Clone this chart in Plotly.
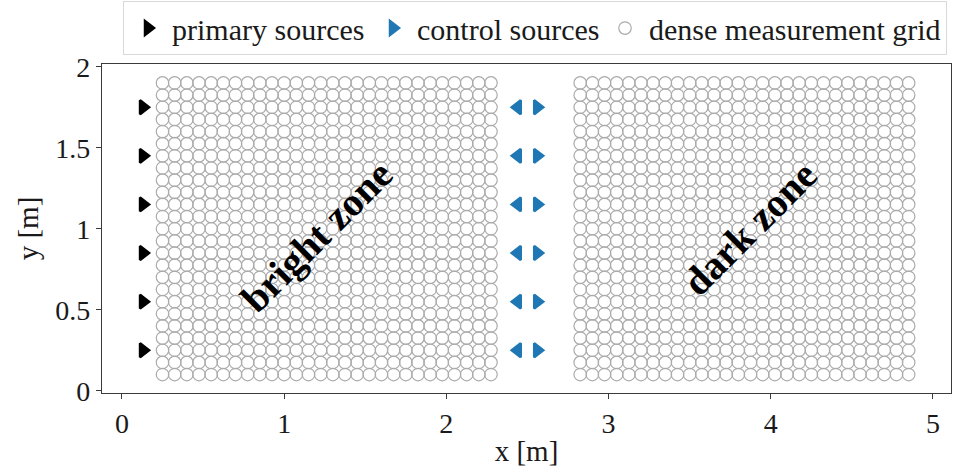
import numpy as np
import plotly.graph_objects as go

# ---- data ----
bright_cols = [0.25, 0.325, 0.4, 0.475, 0.55, 0.625, 0.7, 0.775, 0.85, 0.925, 1.0, 1.075,
               1.15, 1.225, 1.3, 1.375, 1.45, 1.525, 1.6, 1.675, 1.75, 1.825, 1.9, 1.975,
               2.05, 2.125, 2.2, 2.275]
dark_cols = [2.825, 2.9, 2.975, 3.05, 3.125, 3.2, 3.275, 3.35, 3.425, 3.5, 3.575, 3.65,
             3.725, 3.8, 3.875, 3.95, 4.025, 4.1, 4.175, 4.25, 4.325, 4.4, 4.475, 4.55,
             4.625, 4.7, 4.775, 4.85]
grid_rows = [0.1, 0.175, 0.25, 0.325, 0.4, 0.475, 0.55, 0.625, 0.7, 0.775, 0.85, 0.925,
             1.0, 1.075, 1.15, 1.225, 1.3, 1.375, 1.45, 1.525, 1.6, 1.675, 1.75, 1.825, 1.9]

source_y = [0.25, 0.55, 0.85, 1.15, 1.45, 1.75]
primary_x = [0.13] * 6
control_left_x = [2.44] * 6
control_right_x = [2.56] * 6

x_ticks = [0, 1, 2, 3, 4, 5]
x_ticktext = ["0", "1", "2", "3", "4", "5"]
y_ticks = [0, 0.5, 1, 1.5, 2]
y_ticktext = ["0", "0.5", "1", "1.5", "2"]

zone_labels = ["bright zone", "dark zone"]
zone_label_x = [1.20, 3.87]
zone_label_y = [0.95, 1.00]

# grid table
gx, gy = [], []
for cols in (bright_cols, dark_cols):
    X, Y = np.meshgrid(cols, grid_rows)
    gx.extend(X.ravel().tolist())
    gy.extend(Y.ravel().tolist())

FONT = "Liberation Serif"
BLUE = "#1f77b4"
GRAY = "#ababab"
TXT = "#1a1a1a"

fig = go.Figure()

fig.add_trace(go.Scatter(
    x=primary_x, y=source_y, mode="markers", name="primary sources",
    legendwidth=192,
    marker=dict(symbol="triangle-right", size=12, color="black",
                line=dict(color="black", width=2.5)),
))
fig.add_trace(go.Scatter(
    x=control_right_x, y=source_y, mode="markers", name="control sources",
    legendwidth=179,
    marker=dict(symbol="triangle-right", size=12, color=BLUE,
                line=dict(color=BLUE, width=2.5)),
))
fig.add_trace(go.Scatter(
    x=control_left_x, y=source_y, mode="markers", name="control sources",
    showlegend=False,
    marker=dict(symbol="triangle-left", size=12, color=BLUE,
                line=dict(color=BLUE, width=2.5)),
))
fig.add_trace(go.Scatter(
    x=gx, y=gy, mode="markers", name="dense measurement grid",
    marker=dict(symbol="circle-open", size=12.5, color=GRAY,
                line=dict(color=GRAY, width=1.2)),
))

for txt, tx, ty in zip(zone_labels, zone_label_x, zone_label_y):
    fig.add_annotation(x=tx, y=ty, xref="x", yref="y", text="<b>" + txt + "</b>",
                       showarrow=False, textangle=-45,
                       font=dict(family=FONT, size=40, color="black"))

axis_common = dict(
    showline=True, mirror=True, linecolor="#3a3a3a", linewidth=1.2,
    ticks="outside", ticklen=5, tickwidth=1.2, tickcolor="#3a3a3a",
    showgrid=False, zeroline=False,
    tickfont=dict(family=FONT, size=28, color=TXT),
)

fig.update_layout(
    width=953, height=470,
    margin=dict(l=102, r=2, t=63, b=77),
    paper_bgcolor="white", plot_bgcolor="white",
    font=dict(family=FONT, size=28, color=TXT),
    xaxis=dict(range=[-0.123, 5.111], tickvals=x_ticks, ticktext=x_ticktext,
               title=dict(text="x [m]", font=dict(family=FONT, size=29), standoff=2),
               **axis_common),
    yaxis=dict(range=[-0.014, 2.017], tickvals=y_ticks, ticktext=y_ticktext,
               title=dict(text="y [m]", font=dict(family=FONT, size=29), standoff=8),
               **axis_common),
    legend=dict(orientation="h", x=0.9953, xanchor="right", y=1.024, yanchor="bottom",
                bgcolor="white", bordercolor="#d9d9d9", borderwidth=1,
                font=dict(family=FONT, size=30, color=TXT),
                itemwidth=38, tracegroupgap=0),
    showlegend=True,
)

fig.write_html("out.html")
